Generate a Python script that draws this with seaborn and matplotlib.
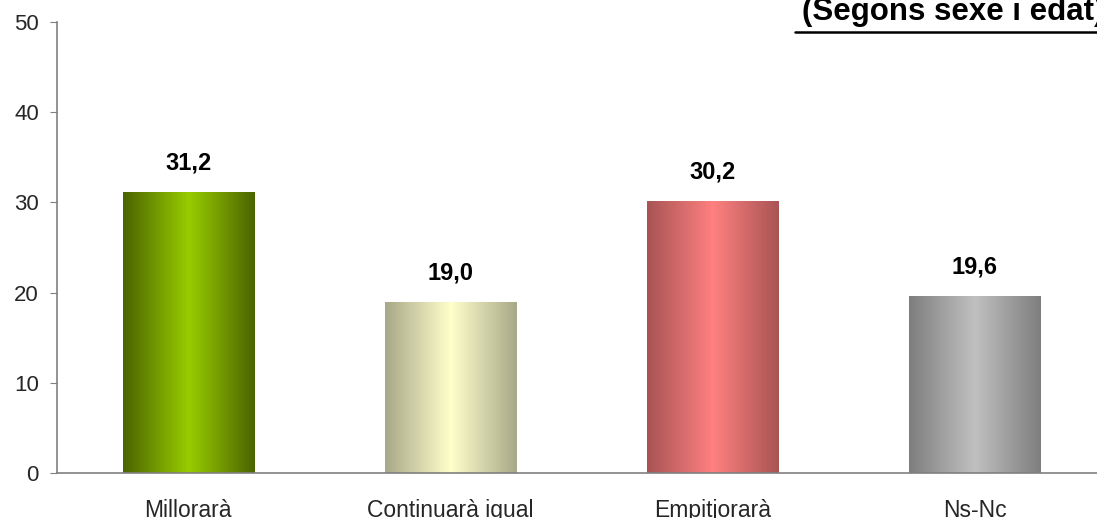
import numpy as np
import pandas as pd
import matplotlib
matplotlib.use("Agg")
import matplotlib.pyplot as plt
import seaborn as sns
from matplotlib.colors import LinearSegmentedColormap

categories = ["Millorarà", "Continuarà igual", "Empitjorarà", "Ns-Nc"]
values = [31.2, 19.0, 30.2, 19.6]
value_labels = ["31,2", "19,0", "30,2", "19,6"]
title_text = "(Segons sexe i edat)"

# edge colour, centre colour per bar (cylinder-like gradient)
edge_colors = ["#4a6400", "#a8a888", "#a85454", "#7e7e7e"]
centre_colors = ["#99cc00", "#ffffcc", "#ff8080", "#c0c0c0"]

sns.set_style("white")
plt.rcParams["font.family"] = ["Liberation Sans", "DejaVu Sans"]

df = pd.DataFrame({"cat": categories, "val": values})

fig = plt.figure(figsize=(10.97, 5.18), dpi=100)
ax = fig.add_axes([0.052, 0.0869, 0.956, 0.8706])

sns.barplot(data=df, x="cat", y="val", width=0.5, color="white", ax=ax)

# gradient fill over each bar
for patch, ec, cc in zip(ax.patches, edge_colors, centre_colors):
    x0, w, h = patch.get_x(), patch.get_width(), patch.get_height()
    cmap = LinearSegmentedColormap.from_list("g", [ec, cc, ec])
    grad = np.linspace(0, 1, 256).reshape(1, -1)
    im = ax.imshow(grad, cmap=cmap, aspect="auto",
                   extent=(x0, x0 + w, 0, h), zorder=2)
    im.set_clip_path(patch)
    patch.set_edgecolor("none")

for i, (v, lab) in enumerate(zip(values, value_labels)):
    ax.text(i, v + 3.2, lab, ha="center", va="center",
            fontsize=17, fontweight="bold", color="black")

ax.set_xlim(-0.5, 3.5)
ax.set_ylim(0, 50)
ax.set_yticks(range(0, 51, 10))
ax.set_xlabel("")
ax.set_ylabel("")
ax.tick_params(axis="y", labelsize=16, direction="out", length=5,
               color="#808080", left=True, pad=8)
ax.set_xticks(range(4))
ax.set_xticklabels(categories, fontsize=16.5)
ax.tick_params(axis="x", length=0, pad=19)
# minor ticks between categories
ax.set_xticks([-0.5, 0.5, 1.5, 2.5, 3.5], minor=True)
ax.tick_params(axis="x", which="minor", direction="out", length=6,
               color="#808080")

for s in ["top", "right"]:
    ax.spines[s].set_visible(False)
for s in ["left", "bottom"]:
    ax.spines[s].set_color("#808080")
    ax.spines[s].set_linewidth(1.2)

fig.text(1104 / 1097, 1 - 20 / 518, title_text, ha="right", va="baseline",
         fontsize=22.5, fontweight="bold", color="black")
# underline beneath the title
fig.add_artist(plt.Line2D([795 / 1097, 1.0], [1 - 32 / 518, 1 - 32 / 518],
                          color="black", linewidth=1.8, transform=fig.transFigure))

fig.savefig("out.png", dpi=100)
